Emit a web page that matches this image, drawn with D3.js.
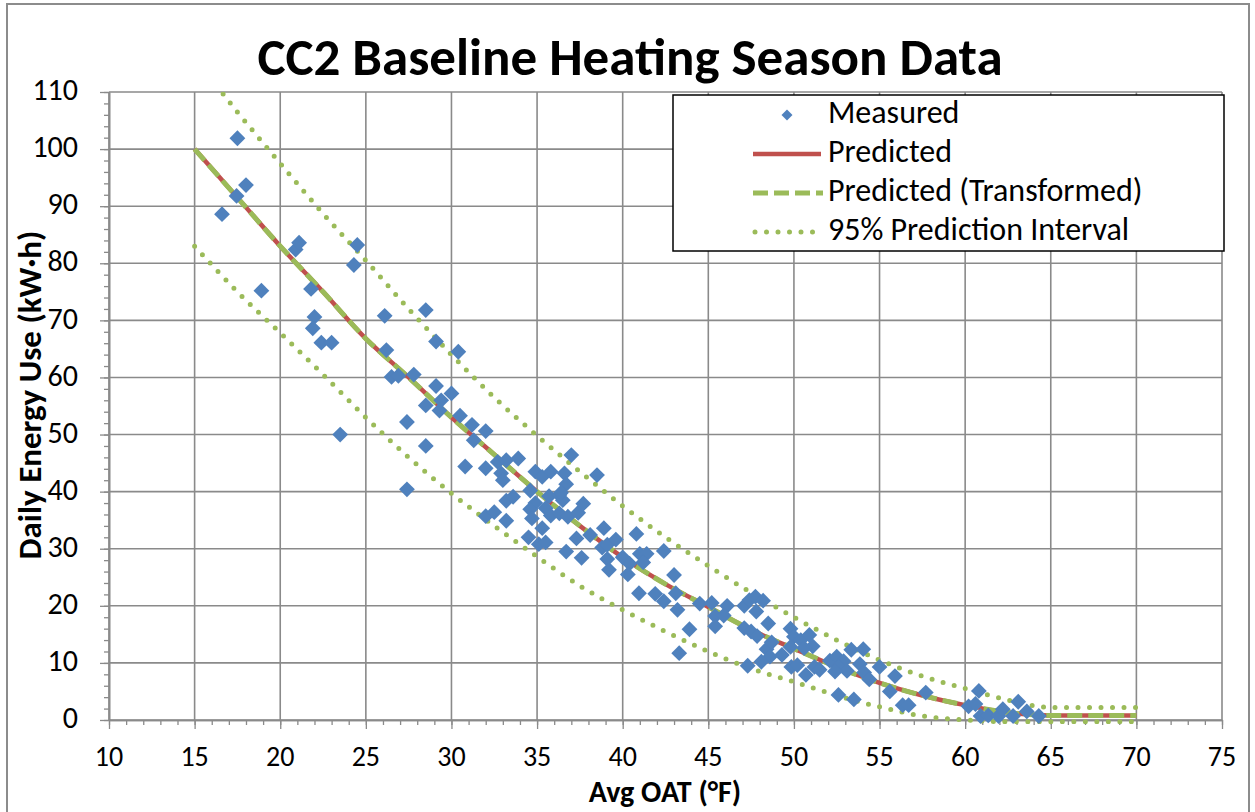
<!DOCTYPE html>
<html>
<head>
<meta charset="utf-8">
<script src="https://cdn.jsdelivr.net/npm/d3@7"></script>
<style>
  body { margin: 0; background: #fff; }
  text { font-family: Carlito, Calibri, Lato, sans-serif; fill: #000; }
</style>
</head>
<body>
<script>
// measured daily energy use vs average outside air temperature
var measured = [
  [16.6, 88.6], [17.45, 91.8], [17.5, 101.9], [18.0, 93.7], [18.9, 75.2], [20.9, 82.4], [21.1, 83.6],
  [21.8, 75.5], [22.0, 70.6], [21.9, 68.6], [22.4, 66.1], [23.0, 66.1], [23.5, 50.0], [24.3, 79.7], [24.5, 83.2],
  [26.1, 70.8], [26.2, 64.8], [26.5, 60.1], [26.9, 60.3], [27.8, 60.5], [27.4, 52.2], [27.4, 40.4], [28.5, 71.8],
  [28.5, 55.1], [28.5, 48.0], [29.1, 66.3], [29.1, 58.5], [29.4, 56.0], [29.3, 54.2], [30.0, 57.2], [30.4, 64.5],
  [30.5, 53.3], [30.8, 44.4],
  [31.2, 51.7], [31.3, 49.0], [32.0, 50.6], [32.0, 44.1], [32.7, 45.2], [33.2, 45.5], [33.9, 45.8], [32.9, 43.2],
  [33.0, 42.0], [33.2, 38.4], [33.6, 39.1], [32.0, 35.7], [32.5, 36.4], [33.2, 34.9],
  [34.6, 40.2], [34.9, 43.5], [35.3, 42.6], [35.8, 43.5], [36.6, 43.2], [36.7, 41.3], [37.0, 46.4], [38.5, 42.9],
  [35.7, 39.2], [36.3, 39.4], [36.5, 38.5], [36.4, 39.8], [34.9, 38.0], [34.6, 36.9], [34.7, 35.3], [35.5, 37.1],
  [35.8, 35.8], [36.3, 36.2], [36.8, 35.6], [37.4, 36.3], [37.7, 37.9], [35.3, 33.6], [34.5, 32.0], [35.1, 30.8],
  [35.5, 31.1], [36.7, 29.5], [37.6, 28.4], [37.3, 31.8], [38.1, 32.4],
  [38.9, 33.6], [38.8, 30.2], [39.1, 30.7], [39.6, 31.6], [39.1, 28.2], [39.2, 26.3], [40.8, 32.6], [40.0, 28.5],
  [40.4, 27.4], [40.3, 25.5], [41.0, 29.1], [41.4, 29.1], [41.2, 27.6], [42.4, 29.6], [43.0, 25.4], [40.95, 22.2],
  [41.9, 22.1], [42.4, 20.8], [43.1, 22.2], [43.2, 19.3], [43.9, 15.9], [43.3, 11.7],
  [44.5, 20.4], [45.2, 20.5], [46.1, 20.0], [45.4, 18.2], [45.9, 18.3], [45.4, 16.4], [47.1, 20.0], [47.4, 21.0],
  [47.75, 21.6], [48.2, 20.9], [47.8, 19.0], [47.1, 16.1], [47.5, 15.5], [47.85, 14.7], [48.5, 16.9], [48.4, 12.4],
  [48.7, 13.6], [48.6, 11.1], [49.3, 11.4], [47.3, 9.5], [48.1, 10.2],
  [49.8, 16.0], [50.0, 14.6], [50.4, 14.0], [50.9, 14.9], [51.1, 12.9], [50.6, 12.6], [49.8, 12.8], [49.85, 9.3],
  [50.2, 9.6], [50.7, 7.9], [51.2, 9.3], [51.5, 8.8], [52.1, 10.4], [52.5, 11.1], [52.9, 10.3], [52.6, 9.3],
  [53.1, 8.6], [52.4, 8.5], [53.35, 12.3], [54.05, 12.4], [53.85, 9.8], [54.1, 8.3], [54.4, 7.1], [52.6, 4.4],
  [53.5, 3.6], [55.0, 9.3], [55.9, 7.7], [55.6, 5.0], [56.35, 2.6], [56.7, 2.6], [57.7, 4.8],
  [60.2, 2.4], [60.6, 2.8], [60.8, 5.1], [60.9, 0.7], [61.35, 0.8], [61.95, 0.7], [62.2, 1.9], [62.8, 0.7],
  [63.1, 3.2], [63.6, 1.5], [64.3, 0.7]
]

// fitted curves, read every 2.5 degrees
var curveOAT   = [15, 17.5, 20, 22.5, 25, 27.5, 30, 32.5, 35, 37.5, 40, 42.5, 45, 47.5, 50, 52.5, 55, 57.5, 60, 62.5, 65, 67.5, 70]
var predicted  = [100, 91.5, 83, 75, 66.8, 60, 53, 46.5, 40, 34, 28.5, 23.8, 19.8, 15.8, 12.5, 9.3, 6.5, 4.3, 2.6, 1.3, 0.8, 0.8, 0.8]
var upperPI    = [116, 106.5, 97.5, 88.7, 80.5, 72, 64, 56.5, 49.8, 43.5, 37.5, 32, 27, 22.3, 18, 14, 10.5, 7.7, 5.5, 3.5, 2.2, 2.2, 2.2]
var lowerPI    = [83, 75, 67.8, 60.5, 53, 46, 39.7, 34, 28.6, 23.5, 19.3, 15.5, 12, 9, 6.7, 4.3, 2.3, 0.7, 0, -0.3, -0.3, -0.3, -0.3]

var xTicks = d3.range(10, 76, 5)
var yTicks = d3.range(0, 111, 10)
var legendLabels = ["Measured", "Predicted", "Predicted (Transformed)", "95% Prediction Interval"]

var width = 1255, height = 812
var margin = {top: 92, right: 33, bottom: 92, left: 109}
var plotW = width - margin.left - margin.right
var plotH = height - margin.top - margin.bottom

var blue = "#4F81BD", red = "#C0504D", green = "#9BBB59", gridColor = "#8a8a8a"

var svg = d3.select("body").append("svg")
  .attr("width", width)
  .attr("height", height)

// outer chart border
svg.append("rect")
  .attr("x", 7).attr("y", 4)
  .attr("width", 1242).attr("height", 830)
  .attr("fill", "none")
  .attr("stroke", "#8c8c8c")
  .attr("stroke-width", 2)

var x = d3.scaleLinear().domain([10, 75]).range([0, plotW])
var y = d3.scaleLinear().domain([0, 110]).range([plotH, 0])

var g = svg.append("g").attr("transform", "translate(" + margin.left + "," + margin.top + ")")

g.append("clipPath").attr("id", "plotclip")
  .append("rect").attr("x", 0).attr("y", 0).attr("width", plotW).attr("height", plotH + 4)

//gridlines
g.append("g").selectAll("line").data(xTicks).enter().append("line")
  .attr("x1", function(d) { return x(d) }).attr("x2", function(d) { return x(d) })
  .attr("y1", 0).attr("y2", plotH)
  .attr("stroke", gridColor).attr("stroke-width", 1.6)
g.append("g").selectAll("line").data(yTicks).enter().append("line")
  .attr("x1", 0).attr("x2", plotW)
  .attr("y1", function(d) { return y(d) }).attr("y2", function(d) { return y(d) })
  .attr("stroke", gridColor).attr("stroke-width", 1.6)

//axes: minor then major ticks
function styleAxis(sel) {
  sel.select(".domain").attr("stroke", gridColor).attr("stroke-width", 1.6)
  sel.selectAll(".tick line").attr("stroke", gridColor).attr("stroke-width", 1.3)
  sel.selectAll("text").remove()
}
g.append("g").attr("transform", "translate(0," + plotH + ")")
  .call(d3.axisBottom(x).tickValues(d3.range(10, 76, 1)).tickSize(5).tickSizeOuter(0))
  .call(styleAxis)
g.append("g").attr("transform", "translate(0," + plotH + ")")
  .call(d3.axisBottom(x).tickValues(xTicks).tickSize(9).tickSizeOuter(0))
  .call(styleAxis)
g.append("g")
  .call(d3.axisLeft(y).tickValues(d3.range(0, 111, 2)).tickSize(5).tickSizeOuter(0))
  .call(styleAxis)
g.append("g")
  .call(d3.axisLeft(y).tickValues(yTicks).tickSize(9).tickSizeOuter(0))
  .call(styleAxis)

//tick labels
g.append("g").selectAll("text").data(xTicks).enter().append("text")
  .attr("x", function(d) { return x(d) })
  .attr("y", plotH + 39)
  .attr("text-anchor", "middle")
  .attr("dominant-baseline", "middle")
  .style("font-size", "28px")
  .text(function(d) { return d })
g.append("g").selectAll("text").data(yTicks).enter().append("text")
  .attr("x", -31)
  .attr("y", function(d) { return y(d) + 1 })
  .attr("text-anchor", "end")
  .attr("dominant-baseline", "middle")
  .style("font-size", "30px")
  .text(function(d) { return d })

//fitted lines
var curvePts = function(vals) { return curveOAT.map(function(t, i) { return [t, vals[i]] }) }
var line = d3.line()
  .x(function(d) { return x(d[0]) })
  .y(function(d) { return y(d[1]) })
  .curve(d3.curveMonotoneX)

var lines = g.append("g").attr("clip-path", "url(#plotclip)")

lines.append("path").datum(curvePts(predicted))
  .attr("d", line).attr("fill", "none")
  .attr("stroke", red).attr("stroke-width", 4.5)
lines.append("path").datum(curvePts(predicted))
  .attr("d", line).attr("fill", "none")
  .attr("stroke", green).attr("stroke-width", 5)
  .attr("stroke-dasharray", "15,6")
;[upperPI, lowerPI].forEach(function(vals) {
  lines.append("path").datum(curvePts(vals))
    .attr("d", line).attr("fill", "none")
    .attr("stroke", green).attr("stroke-width", 5)
    .attr("stroke-linecap", "round")
    .attr("stroke-dasharray", "0,11.5")
})

//measured points as diamonds
var diamond = d3.symbol().type(d3.symbolSquare).size(125)
g.append("g").selectAll("path").data(measured).enter().append("path")
  .attr("d", diamond)
  .attr("transform", function(d) { return "translate(" + x(d[0]) + "," + y(d[1]) + ") rotate(45)" })
  .attr("fill", blue)

//title and axis titles
svg.append("text")
  .attr("x", 630).attr("y", 62)
  .attr("text-anchor", "middle")
  .attr("dominant-baseline", "middle")
  .style("font-size", "53px").style("font-weight", "bold")
  .text("CC2 Baseline Heating Season Data")
svg.append("text")
  .attr("transform", "translate(33," + 395 + ") rotate(-90)")
  .attr("text-anchor", "middle")
  .attr("dominant-baseline", "middle")
  .style("font-size", "33px").style("font-weight", "bold")
  .text("Daily Energy Use (kW·h)")
svg.append("text")
  .attr("x", 665).attr("y", 795)
  .attr("text-anchor", "middle")
  .attr("dominant-baseline", "middle")
  .style("font-size", "30px").style("font-weight", "bold")
  .text("Avg OAT (°F)")

//legend
var legend = svg.append("g").attr("transform", "translate(673,95)")
legend.append("rect")
  .attr("width", 551).attr("height", 156)
  .attr("fill", "#fff").attr("stroke", "#000").attr("stroke-width", 1.5)

var rows = legend.selectAll("g.row").data(legendLabels).enter().append("g")
  .attr("class", "row")
  .attr("transform", function(d, i) { return "translate(0," + (20 + i * 39) + ")" })
rows.append("text")
  .attr("x", 155)
  .attr("dominant-baseline", "middle")
  .style("font-size", "32px")
  .text(function(d) { return d })

rows.filter(function(d, i) { return i == 0 }).append("path")
  .attr("d", d3.symbol().type(d3.symbolSquare).size(60))
  .attr("transform", "translate(114,0) rotate(45)")
  .attr("fill", blue)
rows.filter(function(d, i) { return i == 1 }).append("line")
  .attr("x1", 80).attr("x2", 148)
  .attr("stroke", red).attr("stroke-width", 4.5)
rows.filter(function(d, i) { return i == 2 }).append("line")
  .attr("x1", 80).attr("x2", 150)
  .attr("stroke", green).attr("stroke-width", 5).attr("stroke-dasharray", "15,6")
rows.filter(function(d, i) { return i == 3 }).append("line")
  .attr("x1", 82).attr("x2", 150)
  .attr("stroke", green).attr("stroke-width", 5)
  .attr("stroke-linecap", "round").attr("stroke-dasharray", "0,11.5")
</script>
</body>
</html>
